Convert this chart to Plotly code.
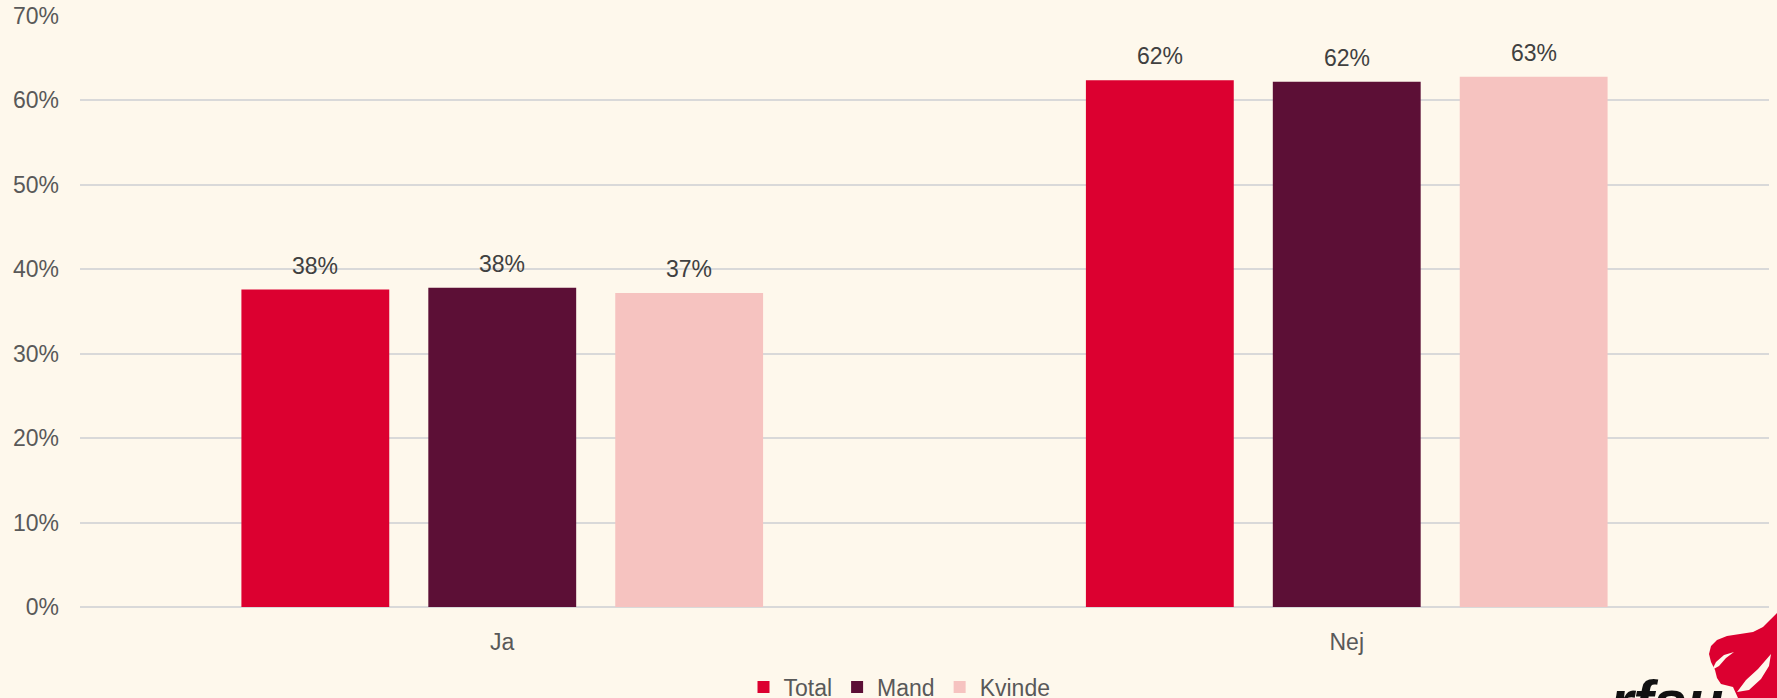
import plotly.graph_objects as go

categories = ["Ja", "Nej"]
total = [37.6, 62.4]
mand = [37.8, 62.2]
kvinde = [37.2, 62.8]
series_names = ["Total", "Mand", "Kvinde"]
colors = ["#DC0030", "#5C0F36", "#F6C3C0"]
y_ticks = [0, 10, 20, 30, 40, 50, 60, 70]
y_tick_labels = [f"{v}%" for v in y_ticks]

W, H = 1777, 698
L, R, T, B = 80, 8, 16, 91
BG = "#FEF8EC"
FONT = "Liberation Sans, Arial"

fig = go.Figure()
series = [total, mand, kvinde]
for name, vals, col in zip(series_names, series, colors):
    fig.add_trace(go.Bar(
        name=name, x=categories, y=vals, marker_color=col, marker_line_width=0,
        hoverinfo="x+y+name",
    ))

slot_px = 187
annotations = []
for i, vals in enumerate(series):
    for cat, v in zip(categories, vals):
        annotations.append(dict(
            x=cat, y=v, xref="x", yref="y", text=f"{round(v)}%", showarrow=False,
            xanchor="center", yanchor="bottom", xshift=(i - 1) * slot_px, yshift=9,
            font=dict(size=23, color="#404040", family=FONT),
        ))

# logo helper: pixel -> paper
pw, ph = W - L - R, H - T - B
def px(x):
    return (x - L) / pw
def py(y):
    return (H - B - y) / ph
def mkpath(pts):
    return "M " + " L ".join(f"{px(x)},{py(y)}" for x, y in pts) + " Z"

flame = [(1777, 613), (1771, 619), (1763, 627), (1753, 632), (1740, 634), (1727, 636),
         (1717, 640), (1711, 646), (1709, 654), (1711, 662), (1715, 670), (1717, 678),
         (1721, 684), (1733, 687), (1738, 698), (1777, 698)]
cut1 = [(1712, 670), (1716, 662), (1724, 655), (1734, 652), (1726, 658), (1719, 666)]
cut2 = [(1737, 692), (1746, 680), (1758, 669), (1771, 654), (1769, 666), (1761, 679), (1749, 690)]

annotations.append(dict(
    text="<b><i>rfsu</i></b>", x=px(1608), y=py(666), xref="paper", yref="paper",
    xanchor="left", yanchor="top", showarrow=False,
    font=dict(size=60, color="#111111", family=FONT)))

fig.update_layout(
    template="none",
    width=W, height=H,
    margin=dict(l=L, r=R, t=T, b=B, pad=0),
    paper_bgcolor=BG, plot_bgcolor=BG,
    barmode="group", bargap=0.336, bargroupgap=0.209,
    font=dict(family=FONT, color="#595959", size=23),
    yaxis=dict(range=[0, 70], tickvals=y_ticks, ticktext=y_tick_labels,
               showgrid=True, gridcolor="#D9D9D9", gridwidth=1.5,
               zeroline=True, zerolinecolor="#D9D9D9", zerolinewidth=1.5,
               showline=False, automargin=False, ticklabelstandoff=20,
               tickfont=dict(size=23, color="#595959"), ticks="", fixedrange=True),
    xaxis=dict(tickfont=dict(size=23, color="#595959"), showline=False, showgrid=False,
               zeroline=False, ticks="", automargin=False, ticklabelstandoff=19,
               fixedrange=True),
    legend=dict(orientation="h", x=0.4852, xanchor="center", xref="paper",
                y=(H - 687) / H, yanchor="middle", yref="container",
                font=dict(size=23, color="#595959", family=FONT), bgcolor="rgba(0,0,0,0)",
                borderwidth=0, itemclick=False, itemdoubleclick=False),
    showlegend=True,
    shapes=[
        dict(type="path", path=mkpath(flame), xref="paper", yref="paper",
             fillcolor="#DC0030", line=dict(width=0), layer="above"),
        dict(type="path", path=mkpath(cut1), xref="paper", yref="paper",
             fillcolor=BG, line=dict(width=0), layer="above"),
        dict(type="path", path=mkpath(cut2), xref="paper", yref="paper",
             fillcolor=BG, line=dict(width=0), layer="above"),
    ],
    annotations=annotations,
)

fig.write_html(
    "out.html",
    config={"displayModeBar": False},
    post_script="document.body.style.margin='0';document.body.style.overflow='hidden';",
)
